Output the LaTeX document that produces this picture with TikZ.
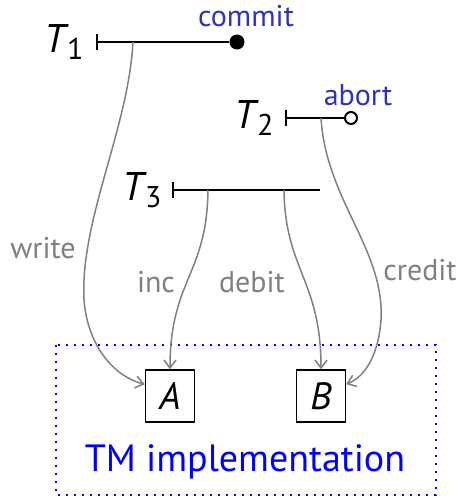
\documentclass[tikz,border=0pt]{standalone}
\usepackage{fontspec}
\setmainfont{PT Sans}
\usetikzlibrary{arrows.meta}
\definecolor{evblue}{RGB}{50,50,185}
\definecolor{tmblue}{RGB}{0,0,255}
\definecolor{opgray}{RGB}{128,128,128}
\newcommand{\tlab}[1]{\textit{T}\kern-1pt\raisebox{-0.35ex}{\fontsize{15}{15}\selectfont #1}}
\tikzset{
  tline/.style={line width=1pt, black},
  tname/.style={font=\fontsize{20}{20}\selectfont, anchor=center},
  evtext/.style={font=\fontsize{15}{15}\selectfont, text=evblue},
  oplab/.style={font=\fontsize{15}{15}\selectfont, text=opgray},
  op/.style={draw=opgray, line width=0.75pt, -{Straight Barb[length=4pt,width=6pt,line width=0.75pt]}},
  objbox/.style={draw, line width=0.75pt, minimum width=24.5pt, minimum height=26pt, inner sep=0pt, font=\fontsize{19}{19}\selectfont\itshape},
  tmbox/.style={draw=tmblue, line width=1pt, dash pattern=on 1.1pt off 2.9pt},
}
\begin{document}
\begin{tikzpicture}[x=0.5pt,y=-0.5pt]
\useasboundingbox (0,0) rectangle (462,498);
% TM box
\draw[tmbox] (56,345) rectangle (436,495);
\node[font=\fontsize{19}{19}\selectfont, text=tmblue] (tm) at (245,462) {TM implementation};
% objects
\node[objbox] (A) at (170,396) {A};
\node[objbox] (B) at (321,396) {B};
% T1
\node[tname] (T1) at (64,42) {\tlab{1}};
\coordinate (t1s) at (96,42);
\node[circle, fill=black, inner sep=0pt, minimum size=7.5pt] (cmt) at (237,42) {};
\draw[tline, {Bar[width=8pt]}-] (t1s) -- (cmt.west);
\node[evtext] (commitlab) at (246,16) {commit};
% T2
\node[tname] (T2) at (254,118) {\tlab{2}};
\coordinate (t2s) at (285,118);
\node[circle, draw=black, fill=white, line width=1pt, inner sep=0pt, minimum size=6pt] (abt) at (351,118) {};
\draw[tline, {Bar[width=8pt]}-] (t2s) -- (abt.west);
\node[evtext] (abortlab) at (358,95) {abort};
% T3
\node[tname] (T3) at (142,190) {\tlab{3}};
\coordinate (t3s) at (172,190);
\coordinate (t3e) at (320,190);
\draw[tline, {Bar[width=8pt]}-] (t3s) -- (t3e);
% operation endpoints on transaction lines
\coordinate (w0) at (133,42);
\coordinate (c0) at (321,118);
\coordinate (i0) at (208,190);
\coordinate (d0) at (284,190);
% operations
\draw[op] (w0) .. controls (128,130) and (80,220) .. (84,300) .. controls (88,350) and (118,378) .. (A.155);
\draw[op] (i0) .. controls (207,275) and (170,280) .. (A.north);
\draw[op] (d0) .. controls (285,270) and (321,280) .. (B.north);
\draw[op] (c0) .. controls (326,200) and (385,250) .. (381,320) .. controls (378,360) and (362,378) .. (B.25);
% labels
\node[oplab] (wl) at (43,248) {write};
\node[oplab] (il) at (156,282) {inc};
\node[oplab] (dl) at (252,282) {debit};
\node[oplab] (cl) at (420,270) {credit};
\end{tikzpicture}
\end{document}
